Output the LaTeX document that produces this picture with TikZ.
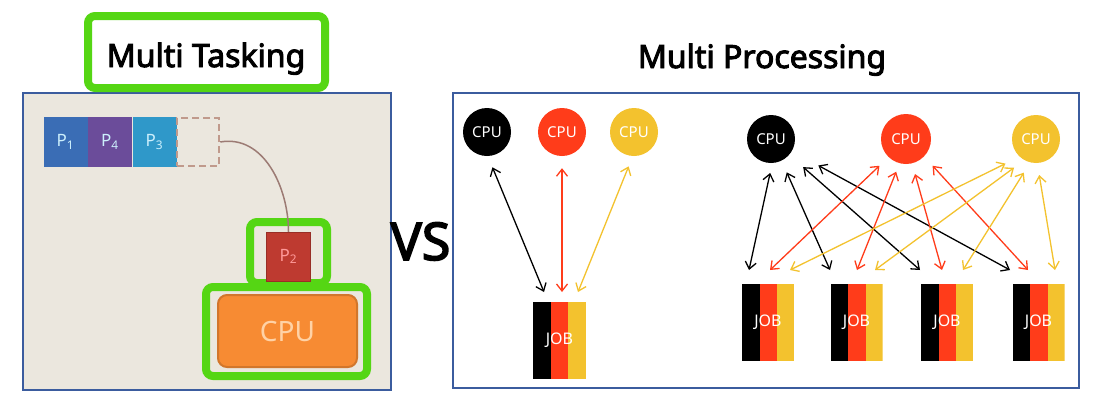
\documentclass[tikz,border=0pt]{standalone}
\usepackage{fontspec}
\setmainfont{Noto Sans}[AutoFakeBold=3]
\usetikzlibrary{arrows.meta}
\definecolor{frameblue}{HTML}{3B5C9E}
\definecolor{hlgreen}{HTML}{55D614}
\definecolor{paper}{HTML}{EBE7DE}
\definecolor{cpured}{HTML}{FF3C1A}
\definecolor{cpuyellow}{HTML}{F3C22E}
\definecolor{pblue}{HTML}{3A6DB5}
\definecolor{ppurple}{HTML}{6B4C9A}
\definecolor{pteal}{HTML}{2F98C9}
\definecolor{pred}{HTML}{BE3A30}
\definecolor{cpuorange}{HTML}{F78B33}
\definecolor{curvebrown}{HTML}{9C7B74}
\definecolor{slotbrown}{HTML}{C09A8C}
\tikzset{
  panel/.style={draw=frameblue, line width=2pt},
  hlbox/.style={draw=hlgreen, line width=8pt, rounded corners=7pt, inner sep=0pt},
  headtext/.style={font=\fontsize{32}{36}\selectfont\bfseries, inner sep=0pt},
  proc/.style={minimum width=44pt, minimum height=50pt, inner sep=0pt,
    text=white!80!cyan, font=\fontsize{17}{17}\selectfont},
  cpu/.style={circle, minimum size=48pt, inner sep=0pt, text=white,
    font=\fontsize{15}{15}\selectfont},
  job/.style={minimum width=53pt, minimum height=77pt, inner sep=0pt, text=white,
    font=\fontsize{16}{16}\selectfont,
    path picture={
      \fill[black] (path picture bounding box.south west) rectangle
        ([xshift=17.67pt]path picture bounding box.north west);
      \fill[cpured] ([xshift=17.67pt]path picture bounding box.south west) rectangle
        ([xshift=35.33pt]path picture bounding box.north west);
      \fill[cpuyellow] ([xshift=35.33pt]path picture bounding box.south west) rectangle
        (path picture bounding box.north east);
    }},
  link/.style={<->, >={Straight Barb[length=7pt,width=11pt]}, line width=1.3pt},
}
\begin{document}
\begin{tikzpicture}[x=1pt, y=-1pt]
  \useasboundingbox (0,0) rectangle (1107,407);
  % multi tasking
  \draw[panel, fill=paper] (23,93) rectangle (391,390);
  \node[hlbox, fill=white, minimum width=237pt, minimum height=72pt] (tasktitle) at (206.5,52) {};
  \node[headtext, anchor=base] (tasktext) at (206,67) {Multi Tasking};
  \node[proc, fill=pblue] (p1) at (65.5,142) {P\textsubscript{1}};
  \node[proc, fill=ppurple] (p4) at (110,142) {P\textsubscript{4}};
  \node[proc, fill=pteal] (p3) at (154.5,142) {P\textsubscript{3}};
  \node[draw=slotbrown, dash pattern=on 7pt off 4pt, line width=2.5pt, minimum width=42pt, minimum height=48pt] (slot) at (198,142) {};
  \node[hlbox, minimum width=77pt, minimum height=61pt] (p2box) at (288.5,252.5) {};
  \node[hlbox, minimum width=161pt, minimum height=89pt] (cpubox) at (286.5,331.5) {};
  \node[proc, fill=pred, draw=pred!80!black, minimum height=49pt, text=red!40!white] (p2) at (288.5,256.5) {P\textsubscript{2}};
  \node[draw=cpuorange!85!black, line width=2pt, fill=cpuorange, rounded corners=9pt,
    minimum width=139pt, minimum height=72pt, text=orange!35!white,
    font=\fontsize{28}{28}\selectfont] (cpu) at (287.5,331) {CPU};
  \draw[curvebrown, line width=1.5pt] (slot.east) to[out=10,in=90] (p2.north);
  \node[font=\fontsize{52}{52}\selectfont\bfseries, inner sep=0pt, anchor=base] (vs) at (420.5,260) {VS};
  % multi processing
  \node[headtext, anchor=base] (proctext) at (762,68) {Multi Processing};
  \draw[panel, fill=white] (453,93) rectangle (1079,388);
  \node[cpu, fill=black] (ka) at (487,132) {CPU};
  \node[cpu, fill=cpured] (ra) at (562,132) {CPU};
  \node[cpu, fill=cpuyellow] (ya) at (634,132) {CPU};
  \node[job] (ja) at (559.5,340) {JOB};
  \coordinate (jak) at (544,292);
  \coordinate (jar) at (562,292);
  \coordinate (jay) at (578,292);
  \node[cpu, fill=black] (kb) at (771,139) {CPU};
  \node[cpu, fill=cpured, minimum size=50pt] (rb) at (906,139) {CPU};
  \node[cpu, fill=cpuyellow] (yb) at (1036,139) {CPU};
  \node[job, minimum width=52pt] (j1) at (768,322.5) {JOB};
  \node[job, minimum width=52pt] (j2) at (856.5,322.5) {JOB};
  \node[job, minimum width=52pt] (j3) at (947,322.5) {JOB};
  \node[job, minimum width=52pt] (j4) at (1038.5,322.5) {JOB};
  \coordinate (j1k) at (749,270);
  \coordinate (j1r) at (770,270);
  \coordinate (j1y) at (790,270);
  \coordinate (j2k) at (830,270);
  \coordinate (j2r) at (857,270);
  \coordinate (j2y) at (875,270);
  \coordinate (j3k) at (920,270);
  \coordinate (j3r) at (942,270);
  \coordinate (j3y) at (963,270);
  \coordinate (j4k) at (1010,270);
  \coordinate (j4r) at (1028,270);
  \coordinate (j4y) at (1055,270);
  \begin{scope}[link]
    \draw[black, shorten <=12pt] (ka.-88) to (jak);
    \draw[cpured, shorten <=12pt] (ra.-90) to (jar);
    \draw[cpuyellow, shorten <=11pt] (ya.-93) to (jay);
    \draw[black, shorten <=10pt] (kb.-87) to (j1k);
    \draw[black, shorten <=12.7pt] (kb.-64) to (j2k);
    \draw[black, shorten <=18.5pt] (kb.-41) to (j3k);
    \draw[black, shorten <=30pt] (kb.-30) to (j4k);
    \draw[cpured, shorten <=12.5pt] (rb.-134) to (j1r);
    \draw[cpured, shorten <=9pt] (rb.-105) to (j2r);
    \draw[cpured, shorten <=11pt] (rb.-76) to (j3r);
    \draw[cpured, shorten <=12.5pt] (rb.-44) to (j4r);
    \draw[cpuyellow, shorten <=15.6pt] (yb.-133) to (j1y);
    \draw[cpuyellow, shorten <=12.7pt] (yb.-119) to (j2y);
    \draw[cpuyellow, shorten <=12pt] (yb.-104) to (j3y);
    \draw[cpuyellow, shorten <=12pt] (yb.-87) to (j4y);
  \end{scope}
\end{tikzpicture}
\end{document}
